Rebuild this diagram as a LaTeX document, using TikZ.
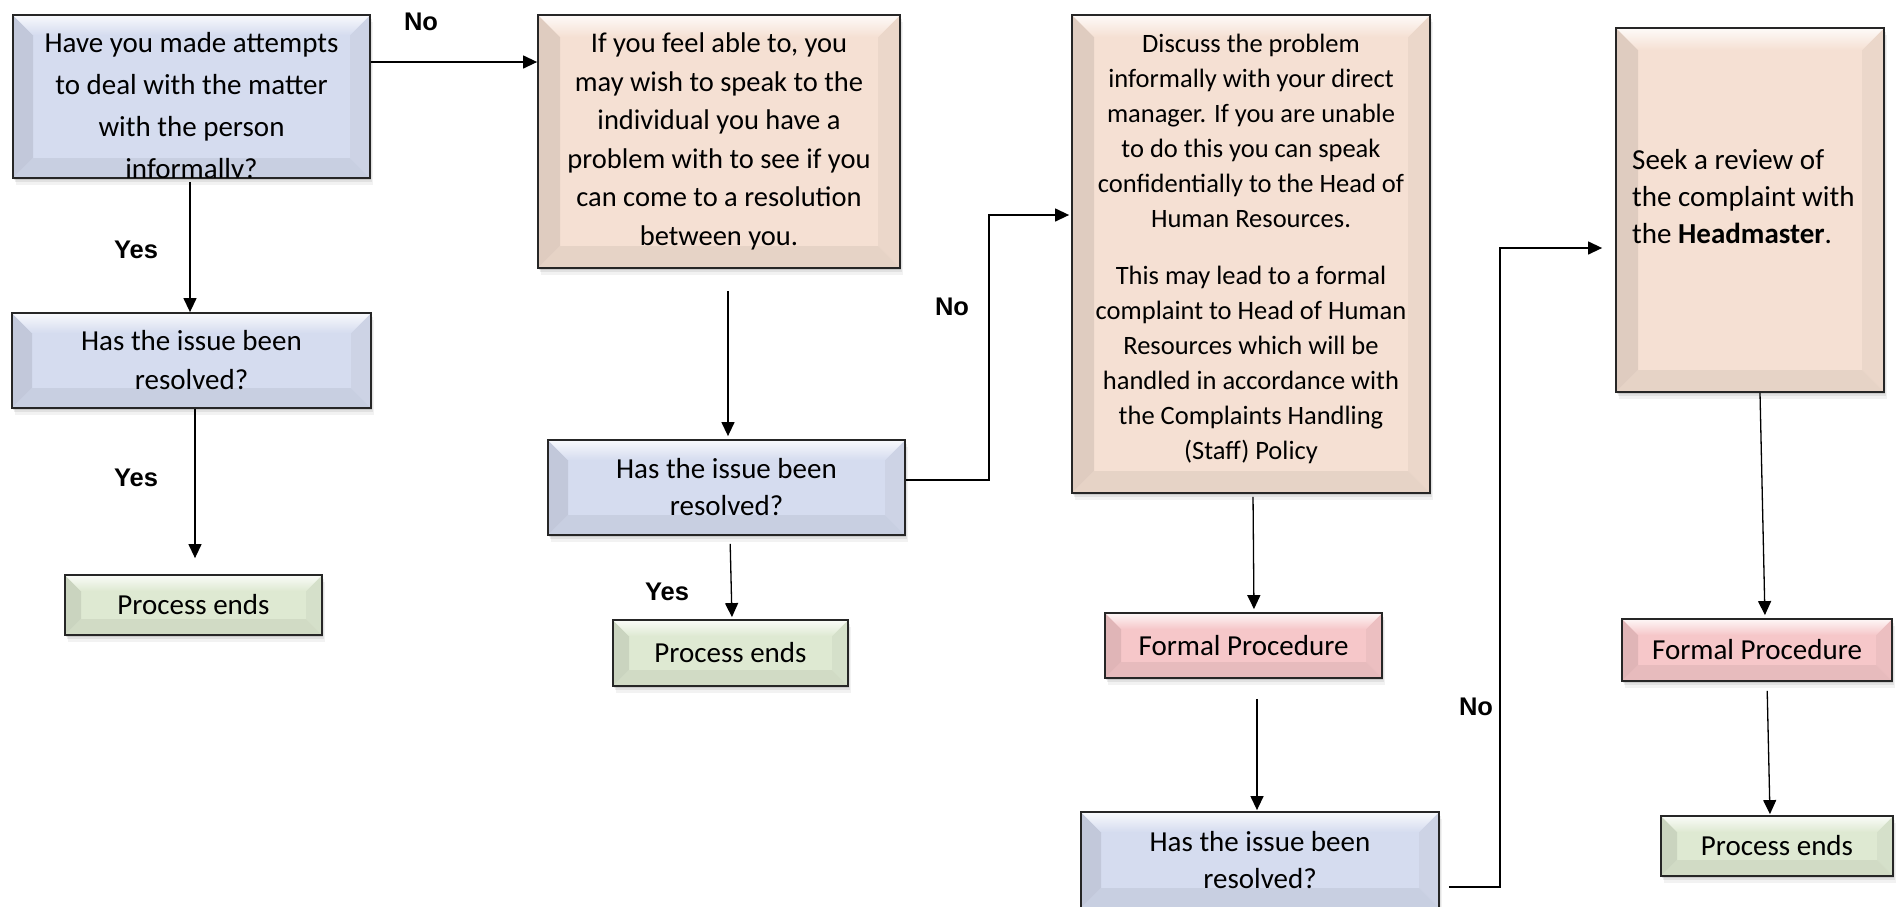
\documentclass[tikz,border=0pt]{standalone}
\usepackage{fontspec}
\setmainfont{Carlito}
\newfontfamily\labelfont{Liberation Sans}
\usetikzlibrary{arrows.meta,shadows}

\definecolor{boxblue}{HTML}{D5DCEF}
\definecolor{boxpeach}{HTML}{F5E0D3}
\definecolor{boxpink}{HTML}{F6C7C9}
\definecolor{boxgreen}{HTML}{DEE9D2}

\tikzset{
  softshadow/.style={
    general shadow={fill=black, opacity=.10, shadow xshift=1pt, shadow yshift=-2pt},
    general shadow={fill=black, opacity=.07, shadow xshift=2pt, shadow yshift=-4pt},
    general shadow={fill=black, opacity=.05, shadow xshift=3pt, shadow yshift=-7pt}},
  % bevelled box: #1 = base colour, #2 = bevel width
  bevelbox/.style 2 args={
    rectangle, inner sep=0pt, draw=black!85, line width=1.8pt, fill=#1,
    softshadow,
    path picture={
      \coordinate (bv-nw) at (path picture bounding box.north west);
      \coordinate (bv-ne) at (path picture bounding box.north east);
      \coordinate (bv-sw) at (path picture bounding box.south west);
      \coordinate (bv-se) at (path picture bounding box.south east);
      \fill[#1!91!black] (bv-nw) -- ([xshift=#2,yshift=-#2]bv-nw)
        -- ([xshift=#2,yshift=#2]bv-sw) -- (bv-sw) -- cycle;
      \fill[#1!96!black] (bv-ne) -- ([xshift=-#2,yshift=-#2]bv-ne)
        -- ([xshift=-#2,yshift=#2]bv-se) -- (bv-se) -- cycle;
      \fill[#1!94!black] (bv-sw) -- ([xshift=#2,yshift=#2]bv-sw)
        -- ([xshift=-#2,yshift=#2]bv-se) -- (bv-se) -- cycle;
      \shade[top color=#1!15!white, bottom color=#1] (bv-nw) -- (bv-ne)
        -- ([xshift=-#2,yshift=-#2]bv-ne) -- ([xshift=#2,yshift=-#2]bv-nw) -- cycle;
    }},
  boxtext/.style={font=\fontsize{29pt}{39pt}\selectfont, align=center},
  flowline/.style={line width=1.3pt, draw=black},
  flowarrow/.style={flowline, -{Triangle[length=14pt,width=13pt]}},
  yesno/.style={font=\labelfont\bfseries\fontsize{25.5pt}{30pt}\selectfont, inner sep=0pt}
}

\begin{document}
\begin{tikzpicture}[x=1pt,y=-1pt]
\useasboundingbox (0,0) rectangle (1899,906);

% ---- first column ----
\node[bevelbox={boxblue}{20pt}, minimum width=357pt, minimum height=163pt] (A) at (191.5,96.5) {};
\begin{scope}
  \clip ([shift={(1pt,1pt)}]A.south west) rectangle ([shift={(-1pt,-1pt)}]A.north east);
  \node[font=\fontsize{29pt}{42pt}\selectfont, align=center, inner sep=0pt, anchor=north] (Atext) at (191.5,32)
    {Have you made attempts\\to deal with the matter\\with the person\\informally?};
\end{scope}

\node[bevelbox={boxblue}{20pt}, minimum width=359pt, minimum height=95pt, boxtext] (A2) at (191.5,360.5)
  {Has the issue been\\resolved?};
\node[bevelbox={boxgreen}{16pt}, minimum width=257pt, minimum height=60pt, boxtext] (PE1) at (193.5,605)
  {Process ends};

% ---- second column ----
\node[bevelbox={boxpeach}{22pt}, minimum width=362pt, minimum height=253pt,
      font=\fontsize{28.5pt}{38.5pt}\selectfont, align=center] (B) at (719,141.5)
  {If you feel able to, you\\may wish to speak to the\\individual you have a\\problem with to see if you\\can come to a resolution\\between you.};
\node[bevelbox={boxblue}{20pt}, minimum width=357pt, minimum height=95pt,
      font=\fontsize{29pt}{37pt}\selectfont, align=center] (B2) at (726.5,487.5)
  {Has the issue been\\resolved?};
\node[bevelbox={boxgreen}{16pt}, minimum width=235pt, minimum height=66pt, boxtext] (PE2) at (730.5,653)
  {Process ends};

% ---- third column ----
\node[bevelbox={boxpeach}{22pt}, minimum width=358pt, minimum height=478pt] (C) at (1251,254) {};
\node[font=\fontsize{26.5pt}{35pt}\selectfont, align=center, inner sep=0pt, anchor=north] (Ctext) at (1251,34)
  {Discuss the problem\\informally with your direct\\manager. If you are unable\\to do this you can speak\\confidentially to the Head of\\Human Resources.\\[22pt]
   This may lead to a formal\\complaint to Head of Human\\Resources which will be\\handled in accordance with\\the Complaints Handling\\(Staff) Policy};
\node[bevelbox={boxpink}{16pt}, minimum width=277pt, minimum height=65pt, boxtext] (C2) at (1243.5,645.5)
  {Formal Procedure};
\node[bevelbox={boxblue}{20pt}, minimum width=358pt, minimum height=96pt,
      font=\fontsize{29pt}{37pt}\selectfont, align=center] (B3) at (1260,860)
  {Has the issue been\\resolved?};

% ---- fourth column ----
\node[bevelbox={boxpeach}{22pt}, minimum width=268pt, minimum height=364pt] (D) at (1750,210) {};
\node[font=\fontsize{29pt}{37pt}\selectfont, align=left, inner sep=0pt, anchor=north west] (Dtext) at (1632,149)
  {Seek a review of\\the complaint with\\the \textbf{Headmaster}.};
\node[bevelbox={boxpink}{16pt}, minimum width=270pt, minimum height=62pt, boxtext] (D2) at (1757,650)
  {Formal Procedure};
\node[bevelbox={boxgreen}{16pt}, minimum width=232pt, minimum height=60pt, boxtext] (PE3) at (1777,846)
  {Process ends};

% ---- connectors ----
\draw[flowarrow] ([yshift=34.5pt]A.east) -- ([yshift=79.5pt]B.west);
\draw[flowarrow, shorten <=3pt] ([xshift=-1.5pt]A.south) -- ([xshift=-1.5pt]A2.north);
\draw[flowarrow, shorten >=16pt] ([xshift=3.5pt]A2.south) -- ([xshift=1.5pt]PE1.north);

\draw[flowarrow, shorten <=22pt, shorten >=3pt] ([xshift=9pt]B.south) -- ([xshift=1.5pt]B2.north);
\draw[flowarrow, shorten <=8pt, shorten >=2pt] ([xshift=3.5pt]B2.south) -- ([xshift=1.5pt]PE2.north);
\draw[flowarrow, shorten >=2pt] ([yshift=7.5pt]B2.east) -- ++(83pt,0pt) |- ([yshift=39pt]C.west);

\draw[flowarrow, shorten <=3pt, shorten >=3pt] ([xshift=2pt]C.south) -- ([xshift=10.5pt]C2.north);
\draw[flowarrow, shorten <=20pt, shorten >=1pt] ([xshift=13.5pt]C2.south) -- ([xshift=-3pt]B3.north);
\draw[flowarrow, shorten <=9pt, shorten >=13pt] ([yshift=-27pt]B3.east) -- ++(60pt,0pt) |- ([yshift=-38pt]D.west);

\draw[flowarrow, shorten >=3pt] ([xshift=10pt]D.south) -- ([xshift=8pt]D2.north);
\draw[flowarrow, shorten <=9pt, shorten >=1pt] ([xshift=10pt]D2.south) -- ([xshift=-7pt]PE3.north);

% ---- branch labels ----
\node[yesno] (no1) at (421,22) {No};
\node[yesno] (yes1) at (136,250) {Yes};
\node[yesno] (yes2) at (136,478) {Yes};
\node[yesno] (yes3) at (667,592) {Yes};
\node[yesno] (no2) at (952,307) {No};
\node[yesno] (no3) at (1476,707) {No};
\end{tikzpicture}
\end{document}
